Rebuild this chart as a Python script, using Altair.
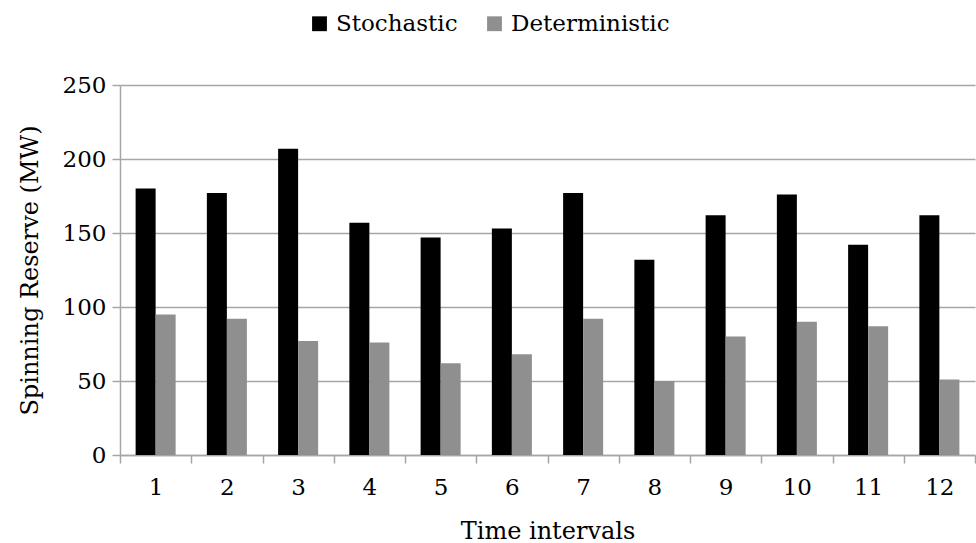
import altair as alt
import pandas as pd

intervals = [str(i) for i in range(1, 13)]
stochastic = [180, 177, 207, 157, 147, 153, 177, 132, 162, 176, 142, 162]
deterministic = [95, 92, 77, 76, 62, 68, 92, 50, 80, 90, 87, 51]
series = ["Stochastic", "Deterministic"]
colors = ["#000000", "#8f8f8f"]

rows = []
for t, s, d in zip(intervals, stochastic, deterministic):
    rows.append({"interval": t, "series": series[0], "value": s})
    rows.append({"interval": t, "series": series[1], "value": d})
df = pd.DataFrame(rows)

FONT = "DejaVu Serif"
GRAY = "#a6a6a6"

chart = alt.Chart(df).mark_bar(size=20).encode(
    x=alt.X("interval:N", sort=intervals,
            scale=alt.Scale(paddingInner=0, paddingOuter=0),
            axis=alt.Axis(title="Time intervals", labelAngle=0, tickBand="extent",
                          tickSize=8, labelPadding=13, titlePadding=20,
                          domainColor=GRAY, tickColor=GRAY,
                          domainWidth=1.5, tickWidth=1.5)),
    xOffset=alt.XOffset("series:N", sort=series,
                        scale=alt.Scale(paddingInner=0, paddingOuter=0.78)),
    y=alt.Y("value:Q", scale=alt.Scale(domain=[0, 250]),
            axis=alt.Axis(title="Spinning Reserve (MW)", values=[0, 50, 100, 150, 200, 250],
                          tickSize=8, labelPadding=6, titlePadding=20,
                          domainColor=GRAY, tickColor=GRAY,
                          gridColor=GRAY, gridWidth=1.5,
                          domainWidth=1.5, tickWidth=1.5)),
    color=alt.Color("series:N", sort=series,
                    scale=alt.Scale(domain=series, range=colors),
                    legend=alt.Legend(title=None, orient="none", direction="horizontal",
                                      legendX=188, legendY=-73, symbolType="square",
                                      symbolSize=220, symbolStrokeWidth=0,
                                      columnPadding=25, labelOffset=5,
                                      labelFont=FONT, labelFontSize=23,
                                      labelColor="#000000")),
).properties(
    width=855, height=370,
    autosize=alt.AutoSizeParams(type="none"),
    padding={"left": 120, "top": 85, "right": 1, "bottom": 88},
).configure_axis(
    labelFont=FONT, titleFont=FONT, labelFontSize=23, titleFontSize=24,
    labelColor="#000000", titleColor="#000000", titleFontWeight="normal",
).configure_view(stroke=None)

chart.save("out.html", embed_options={"renderer": "svg", "actions": False})
